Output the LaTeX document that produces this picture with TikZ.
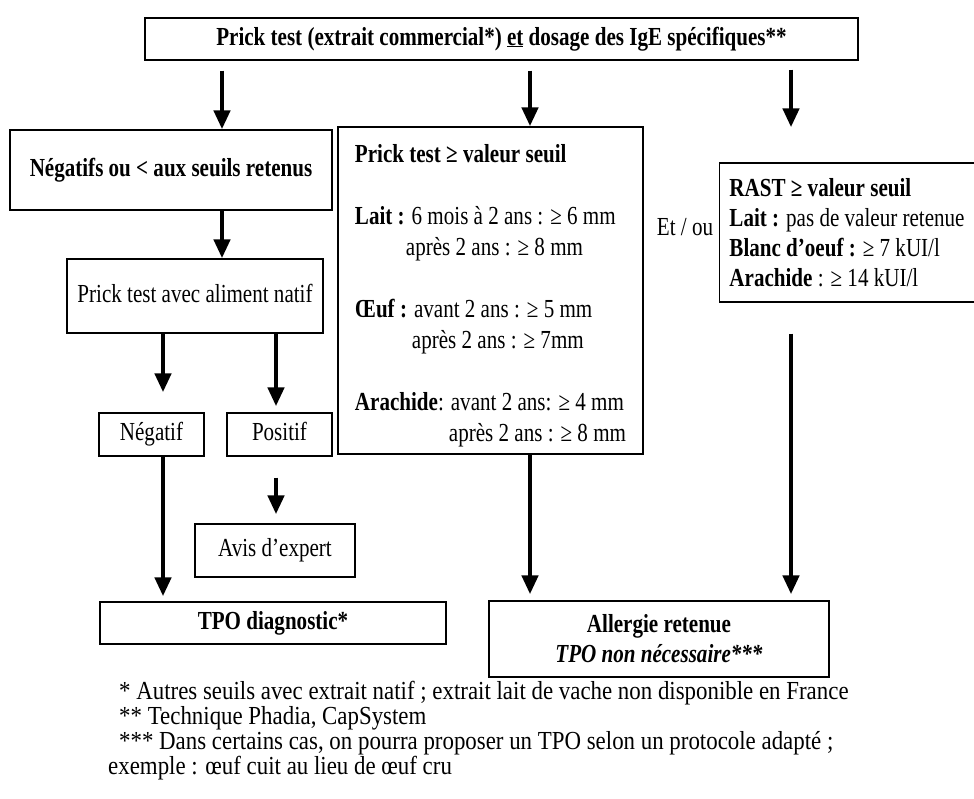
\documentclass[tikz,border=0pt]{standalone}
\usepackage{fontspec}
\setmainfont{Liberation Serif}[FakeStretch=0.81]
\newfontfamily\notefont{Liberation Serif}[FakeStretch=0.88]
\usepackage{tikz}
\usetikzlibrary{arrows.meta,positioning}

\tikzstyle{box} = [rectangle, draw=black, line width=1.4pt, inner sep=0pt, text centered]
\tikzstyle{linebox} = [box, text height=18pt, text depth=6pt]
\tikzstyle{textbox} = [rectangle, draw=black, line width=1.4pt, inner xsep=10pt, inner ysep=4pt, align=left]
\tikzstyle{arrow} = [line width=4.5pt, -{Triangle[width=16pt,length=19pt]}]

\begin{document}
\begin{tikzpicture}[x=1pt, y=-1pt, font=\fontsize{26}{31}\selectfont]
\useasboundingbox (0,0) rectangle (974,798);

% Boxes
\node (top) [linebox, minimum width=713pt, minimum height=42pt] at (501.5,39) {\textbf{Prick test (extrait commercial*) \underline{et} dosage des IgE spécifiques**}};
\node (lbox) [linebox, minimum width=322pt, minimum height=80pt] at (171,170) {\textbf{Négatifs ou < aux seuils retenus}};
\node (mid) [textbox, minimum width=305pt, minimum height=327pt] at (490.5,290.5) {%
\rule{0pt}{28pt}\textbf{Prick test ≥ valeur seuil}\\[31pt]
\textbf{Lait :} 6 mois à 2 ans : ≥ 6 mm\\
\hspace*{51pt}après 2 ans : ≥ 8 mm\\[31pt]
\textbf{Œuf :} avant 2 ans : ≥ 5 mm\\
\hspace*{57pt}après 2 ans : ≥ 7mm\\[31pt]
\textbf{Arachide}: avant 2 ans: ≥ 4 mm\\
\hspace*{94pt}après 2 ans : ≥ 8 mm};
\node (rast) [textbox, minimum width=252pt, minimum height=139pt, font=\fontsize{26}{30}\selectfont] at (847,232.5) {%
\textbf{RAST ≥ valeur seuil}\\
\textbf{Lait :} pas de valeur retenue\\
\textbf{Blanc d'oeuf :} ≥ 7 kUI/l\\
\textbf{Arachide} : ≥ 14 kUI/l};
\node (etou) at (685,227) {Et / ou};
\node (natif) [linebox, minimum width=256pt, minimum height=74pt] at (195,296) {Prick test avec aliment natif};
\node (neg) [linebox, minimum width=105pt, minimum height=43pt] at (151.5,434.5) {Négatif};
\node (pos) [linebox, minimum width=105pt, minimum height=43pt, right of=neg, node distance=128pt] {Positif};
\node (avis) [linebox, minimum width=160pt, minimum height=53pt] at (275,550.5) {Avis d’expert};
\node (tpo) [linebox, minimum width=346pt, minimum height=42pt] at (273,623) {\textbf{TPO diagnostic*}};
\node (allerg) [box, minimum width=340pt, minimum height=76pt, align=center, font=\fontsize{26}{30}\selectfont] at (659,639) {\textbf{Allergie retenue}\\\textbf{\textit{TPO non nécessaire***}}};

% Footnotes
\node (notes) [anchor=north west, inner sep=0pt, align=left, font=\notefont\fontsize{26}{25}\selectfont] at (108,681) {%
\hspace*{11pt}* Autres seuils avec extrait natif ; extrait lait de vache non disponible en France\\
\hspace*{11pt}** Technique Phadia, CapSystem\\
\hspace*{11pt}*** Dans certains cas, on pourra proposer un TPO selon un protocole adapté ;\\
exemple : œuf cuit au lieu de œuf cru};

% Arrow columns
\coordinate (xl) at (222,0);
\coordinate (xm) at (530,0);
\coordinate (xr) at (791,0);
\coordinate (xn) at (163,0);
\coordinate (xp) at (276,0);

% Arrows
\draw[arrow, shorten <=10pt] (top.south -| xl) -- (xl |- lbox.north);
\draw[arrow, shorten <=10pt] (top.south -| xm) -- (xm |- mid.north);
\draw[arrow, shorten <=9pt, shorten >=35pt] (top.south -| xr) -- (xr |- rast.north);
\draw[arrow] (lbox.south -| xl) -- (xl |- natif.north);
\draw[arrow, shorten >=20pt] (natif.south -| xn) -- (xn |- neg.north);
\draw[arrow, shorten >=6pt] (natif.south -| xp) -- (xp |- pos.north);
\draw[arrow, shorten <=21pt, shorten >=9pt] (pos.south -| xp) -- (xp |- avis.north);
\draw[arrow, shorten >=5pt] (neg.south -| xn) -- (xn |- tpo.north);
\draw[arrow, shorten >=6pt] (mid.south -| xm) -- (xm |- allerg.north);
\draw[arrow, shorten <=31pt, shorten >=6pt] (rast.south -| xr) -- (xr |- allerg.north);
\end{tikzpicture}
\end{document}
